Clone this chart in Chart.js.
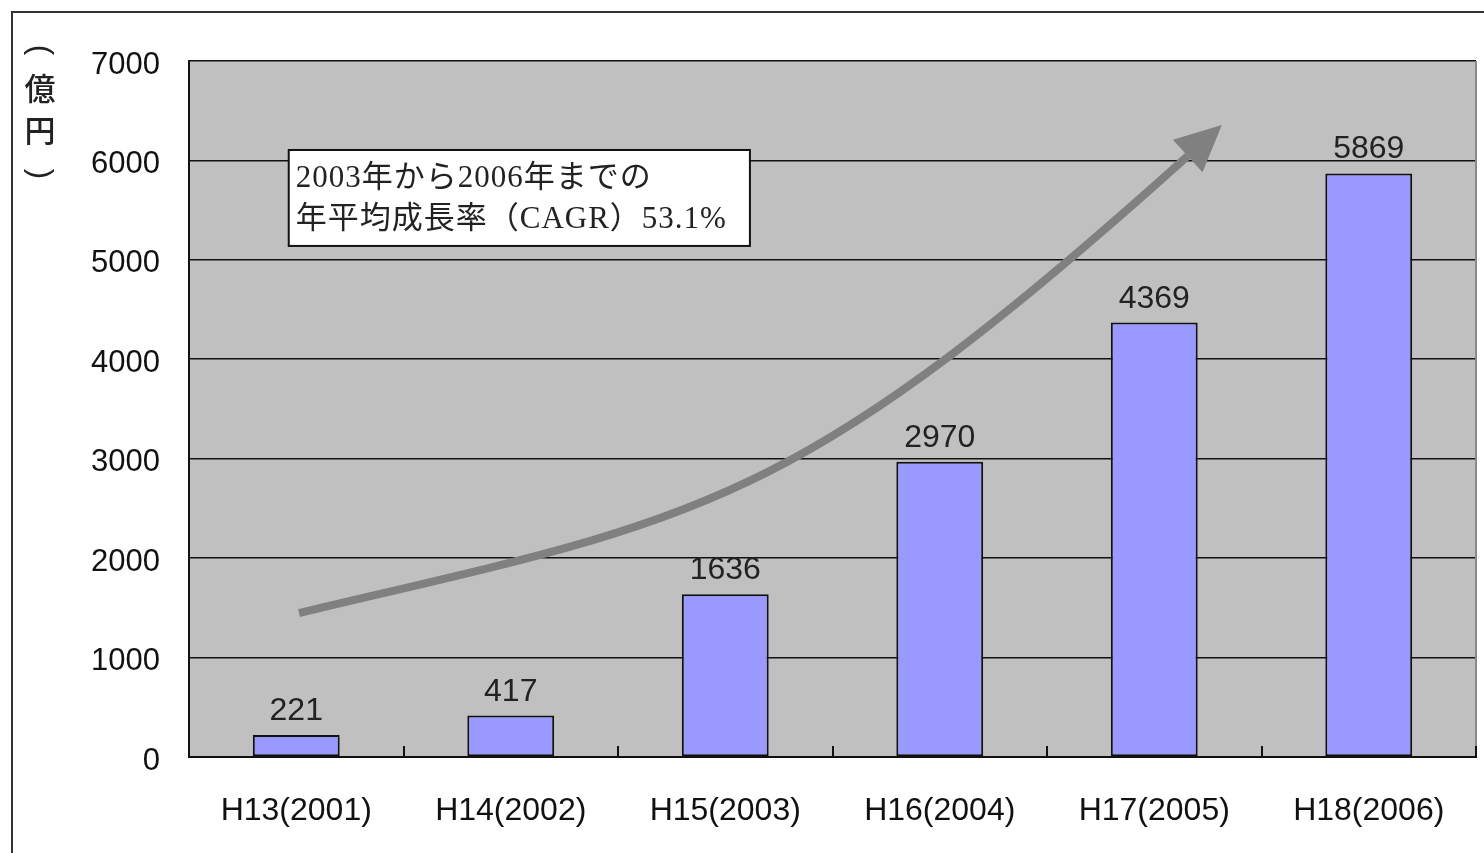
<!DOCTYPE html>
<html>
<head>
<meta charset="utf-8">
<script src="https://cdn.jsdelivr.net/npm/chart.js@4"></script>
<style>
html,body{margin:0;padding:0;background:#fff;overflow:hidden;}
#wrap{position:relative;width:1484px;height:853px;}
</style>
</head>
<body>
<div id="wrap"><canvas id="c" width="1484" height="853"></canvas></div>
<script>
// ---- data ----
const categories = ["H13(2001)", "H14(2002)", "H15(2003)", "H16(2004)", "H17(2005)", "H18(2006)"];
const marketValues = [221, 417, 1636, 2970, 4369, 5869];
const yTickMin = 0;
const yTickMax = 7000;
const yTickStep = 1000;
const yAxisTitleChars = ["(", "億", "円", ")"];
const noteLines = ["2003年から2006年までの", "年平均成長率（CAGR）53.1%"];
// trend arrow as a cubic curve in data space: [category index, value]
const arrowStart = [0.013, 1448];
const arrowCtrl1 = [1.88, 2404];
const arrowCtrl2 = [2.29, 2424];
const arrowEnd = [4.156, 6044];
const arrowTip = [4.315, 6356];
// note box corners in data space
const noteBox = {x0: -0.035, y0: 6105, x1: 2.115, y1: 5140};

const FONT = "'Liberation Sans', Arial, 'Noto Sans CJK JP', sans-serif";
Chart.defaults.font.family = FONT;
Chart.defaults.color = "#000";

const decor = {
  id: "decor",
  beforeDraw(chart) {
    const ctx = chart.ctx, a = chart.chartArea;
    ctx.save();
    ctx.fillStyle = "#fff";
    ctx.fillRect(0, 0, chart.width, chart.height);
    // outer frame
    ctx.strokeStyle = "#333";
    ctx.lineWidth = 2;
    ctx.strokeRect(12, 12, chart.width + 50, chart.height + 50);
    // plot background
    ctx.fillStyle = "#c0c0c0";
    ctx.fillRect(a.left, a.top, a.right - a.left, a.bottom - a.top);
    // y-axis title (vertical, parentheses turned)
    ctx.fillStyle = "#222";
    ctx.textAlign = "center";
    ctx.textBaseline = "middle";
    const ys = [50, 88, 130, 174];
    yAxisTitleChars.forEach((ch, i) => {
      if (i === 0 || i === yAxisTitleChars.length - 1) {
        ctx.save();
        ctx.font = "31px 'Liberation Sans'";
        ctx.translate(40, ys[i]);
        ctx.rotate(Math.PI / 2);
        ctx.fillText(ch, 0, 0);
        ctx.restore();
      } else {
        ctx.font = "500 31px 'Noto Sans CJK JP'";
        ctx.fillText(ch, 40, ys[i]);
      }
    });
    ctx.restore();
  },
  afterDatasetsDraw(chart) {
    const ctx = chart.ctx, a = chart.chartArea;
    const xs = chart.scales.x, ysc = chart.scales.y;
    const px = p => [xs.getPixelForValue(p[0]), ysc.getPixelForValue(p[1])];
    ctx.save();
    // right border
    ctx.strokeStyle = "#8a8a8a";
    ctx.lineWidth = 2;
    ctx.beginPath();
    ctx.moveTo(a.right, a.top);
    ctx.lineTo(a.right, a.bottom);
    ctx.stroke();
    // inward category ticks
    ctx.strokeStyle = "#111";
    ctx.lineWidth = 2;
    const cw = (a.right - a.left) / categories.length;
    for (let i = 1; i <= categories.length; i++) {
      const x = Math.round(a.left + cw * i);
      ctx.beginPath();
      ctx.moveTo(x, a.bottom);
      ctx.lineTo(x, a.bottom - 11);
      ctx.stroke();
    }
    // value labels
    ctx.fillStyle = "#222";
    ctx.font = "32px " + FONT;
    ctx.textAlign = "center";
    ctx.textBaseline = "alphabetic";
    const meta = chart.getDatasetMeta(0);
    meta.data.forEach((bar, i) => {
      ctx.fillText(String(marketValues[i]), bar.x, bar.y - 15);
    });
    // trend arrow
    const S = px(arrowStart), C1 = px(arrowCtrl1), C2 = px(arrowCtrl2), E = px(arrowEnd), T = px(arrowTip);
    ctx.strokeStyle = "#808080";
    ctx.fillStyle = "#808080";
    ctx.lineWidth = 8;
    ctx.lineCap = "butt";
    ctx.beginPath();
    ctx.moveTo(S[0], S[1]);
    ctx.bezierCurveTo(C1[0], C1[1], C2[0], C2[1], E[0], E[1]);
    ctx.stroke();
    const dx = T[0] - E[0], dy = T[1] - E[1];
    const len = Math.hypot(dx, dy), ux = dx / len, uy = dy / len;
    const hw = 22;
    ctx.beginPath();
    ctx.moveTo(T[0], T[1]);
    ctx.lineTo(E[0] - uy * hw, E[1] + ux * hw);
    ctx.lineTo(E[0] + uy * hw, E[1] - ux * hw);
    ctx.closePath();
    ctx.fill();
    // note box
    const B0 = px([noteBox.x0, noteBox.y0]), B1 = px([noteBox.x1, noteBox.y1]);
    ctx.fillStyle = "#fff";
    ctx.fillRect(B0[0], B0[1], B1[0] - B0[0], B1[1] - B0[1]);
    ctx.strokeStyle = "#111";
    ctx.lineWidth = 2;
    ctx.strokeRect(B0[0], B0[1], B1[0] - B0[0], B1[1] - B0[1]);
    ctx.fillStyle = "#222";
    ctx.font = "31px 'Liberation Serif', 'Noto Sans CJK JP', serif";
    ctx.letterSpacing = "1px";
    ctx.textAlign = "left";
    ctx.textBaseline = "alphabetic";
    ctx.fillText(noteLines[0], B0[0] + 7, B0[1] + 37);
    ctx.fillText(noteLines[1], B0[0] + 7, B0[1] + 78);
    ctx.restore();
  }
};

new Chart(document.getElementById("c"), {
  type: "bar",
  data: {
    labels: categories,
    datasets: [{
      data: marketValues,
      backgroundColor: "#9999ff",
      borderColor: "#111",
      borderWidth: 2,
      borderSkipped: false,
      categoryPercentage: 1.0,
      barPercentage: 0.405
    }]
  },
  options: {
    responsive: false,
    animation: false,
    devicePixelRatio: 1,
    layout: {padding: {top: 61, right: 8, left: 0, bottom: 0}},
    plugins: {legend: {display: false}, tooltip: {enabled: false}},
    scales: {
      x: {
        grid: {display: false, drawTicks: false},
        border: {display: true, color: "#111", width: 2},
        ticks: {font: {size: 32}, color: "#111", padding: 35, maxRotation: 0, autoSkip: false},
        afterFit(s) { s.height = 96; }
      },
      y: {
        min: yTickMin, max: yTickMax,
        grid: {color: "#111", lineWidth: 1.6, drawTicks: false},
        border: {display: true, color: "#111", width: 2},
        ticks: {stepSize: yTickStep, font: {size: 31}, color: "#111", padding: 29, labelOffset: 4,
                callback: v => String(v)},
        afterFit(s) { s.width = 189; }
      }
    }
  },
  plugins: [decor]
});
</script>
</body>
</html>
